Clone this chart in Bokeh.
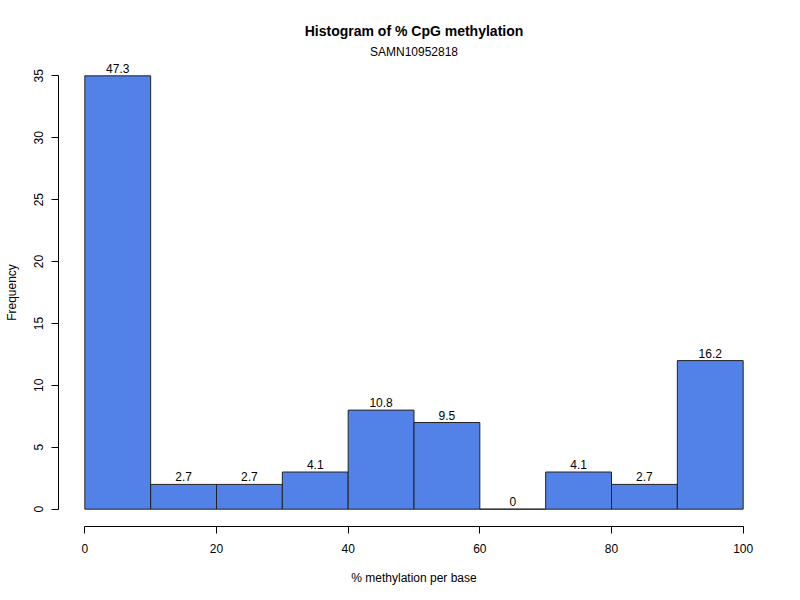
from bokeh.plotting import figure
from bokeh.models import Title, Range1d, FixedTicker, ColumnDataSource
from bokeh.embed import file_html
from bokeh.resources import INLINE
from bokeh.core.properties import value

# Data
bin_left = [0, 10, 20, 30, 40, 50, 60, 70, 80, 90]
bin_right = [10, 20, 30, 40, 50, 60, 70, 80, 90, 100]
counts = [35, 2, 2, 3, 8, 7, 0, 3, 2, 12]
pct_labels = ["47.3", "2.7", "2.7", "4.1", "10.8", "9.5", "0", "4.1", "2.7", "16.2"]
x_ticks = [0, 20, 40, 60, 80, 100]
y_ticks = [0, 5, 10, 15, 20, 25, 30, 35]

FONT = "Liberation Sans"
BAR = "#5281E8"

src = ColumnDataSource(dict(
    left=bin_left, right=bin_right, top=counts, bottom=[0] * len(counts),
    mid=[(a + b) / 2 for a, b in zip(bin_left, bin_right)], lab=pct_labels))

p = figure(width=800, height=600, output_backend="svg", toolbar_location=None,
           x_range=Range1d(-4, 104), y_range=Range1d(-1.4, 36.4),
           min_border_left=58, min_border_right=31, min_border_top=58, min_border_bottom=74,
           frame_width=711, frame_height=468)
p.outline_line_color = None
p.grid.grid_line_color = None
p.background_fill_color = "white"
p.border_fill_color = "white"

p.quad(left="left", right="right", top="top", bottom="bottom", source=src,
       fill_color=BAR, line_color="#222222", line_width=1)
p.text(x="mid", y="top", text="lab", source=src, text_align="center",
       text_baseline="bottom", y_offset=-3, text_font=value(FONT),
       text_font_size="12px", text_color="black")

# Axes styled like R base graphics
for ax in (p.xaxis[0], p.yaxis[0]):
    ax.axis_line_color = "black"
    ax.major_tick_line_color = "black"
    ax.major_tick_out = 7
    ax.major_tick_in = 0
    ax.minor_tick_line_color = None
    ax.major_label_text_font = FONT
    ax.major_label_text_font_size = "12px"
    ax.major_label_text_color = "black"
    ax.axis_label_text_font = FONT
    ax.axis_label_text_font_size = "12px"
    ax.axis_label_text_font_style = "normal"
    ax.axis_label_text_color = "black"

p.xaxis.ticker = FixedTicker(ticks=x_ticks)
p.yaxis.ticker = FixedTicker(ticks=y_ticks)
p.xaxis.bounds = (0, 100)
p.yaxis.bounds = (0, 35)
p.xaxis.axis_label = "% methylation per base"
p.yaxis.axis_label = "Frequency"
p.xaxis.major_label_standoff = 10
p.xaxis.axis_label_standoff = 15
p.yaxis.major_label_orientation = "vertical"
p.yaxis.major_label_standoff = 8
p.yaxis.axis_label_standoff = 13

p.title.text = "Histogram of % CpG methylation"
p.title.align = "center"
p.title.text_font = FONT
p.title.text_font_size = "14px"
p.title.text_font_style = "bold"
p.title.text_color = "black"
p.title.standoff = 8
p.add_layout(Title(text="SAMN10952818", align="center", text_font=FONT,
                   text_font_size="12px", text_font_style="normal",
                   text_color="black", standoff=0), "above")

open("out.html", "w").write(file_html(p, INLINE))
